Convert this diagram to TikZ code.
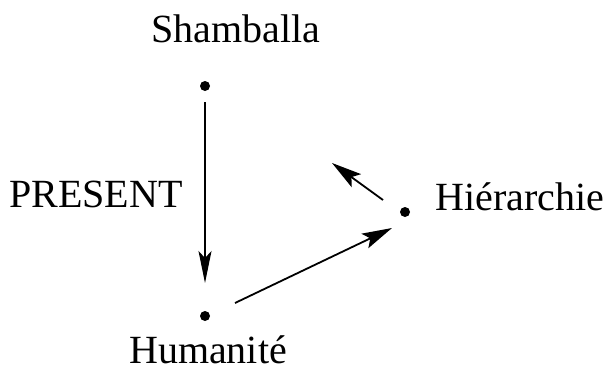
\documentclass[tikz,border=0pt]{standalone}
\usepackage{fontspec}
\setmainfont{Liberation Serif}
\usetikzlibrary{arrows.meta}
\begin{document}
\begin{tikzpicture}[x=1pt,y=-1pt,
  lbl/.style={anchor=base,inner sep=0pt,font=\fontsize{40}{42}\selectfont},
  pt/.style={circle,fill=black,inner sep=0pt,minimum size=10pt},
  arr/.style={line width=1.8pt,-{Stealth[length=30pt,width=16pt,inset=6pt]}}]
\useasboundingbox (0,0) rectangle (612,372);
\node[lbl] (tS) at (236,42) {Shamballa};
\node[lbl] (tP) at (96,207) {PRESENT};
\node[lbl] (tH) at (520,210) {Hiérarchie};
\node[lbl] (tU) at (208,363) {Humanité};
\node[pt] (dS) at (205,86) {};
\node[pt] (dU) at (205,316) {};
\node[pt] (dH) at (405,212) {};
\coordinate (v1) at (205,102);
\coordinate (v2) at (205,283);
\coordinate (a1) at (235,303);
\coordinate (a2) at (392,228);
\coordinate (b1) at (383,200);
\coordinate (b2) at (332,163);
\draw[arr,line width=1.3pt,-{Stealth[length=32pt,width=13pt,inset=7pt]}] (v1) -- (v2);
\draw[arr] (a1) -- (a2);
\draw[arr] (b1) -- (b2);
\end{tikzpicture}
\end{document}
